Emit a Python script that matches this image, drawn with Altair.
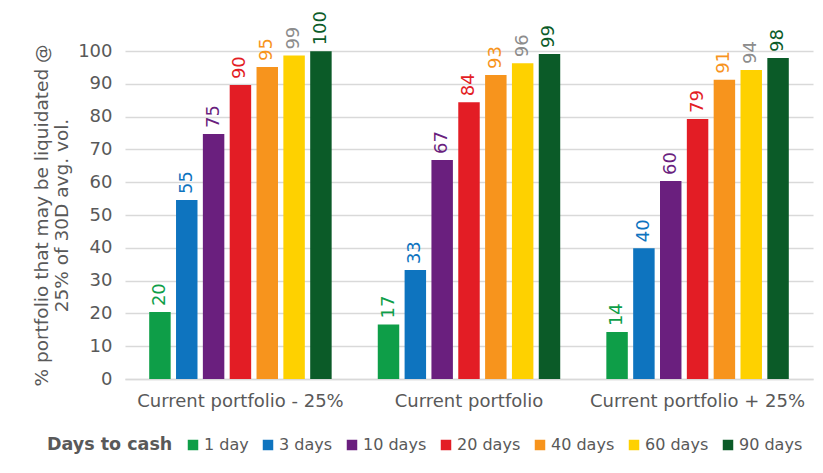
import altair as alt
import pandas as pd

groups = ["Current portfolio - 25%", "Current portfolio", "Current portfolio + 25%"]
days = ["1 day", "3 days", "10 days", "20 days", "40 days", "60 days", "90 days"]
vals_minus25 = [20.4, 54.6, 74.7, 89.6, 95.1, 98.6, 99.9]
vals_current = [16.6, 33.2, 66.8, 84.4, 92.7, 96.3, 99.1]
vals_plus25 = [14.3, 39.9, 60.4, 79.3, 91.2, 94.2, 97.9]
y_ticks = [0, 10, 20, 30, 40, 50, 60, 70, 80, 90, 100]

bar_colors = ["#0E9E48", "#0E74BF", "#6A1F7E", "#E31D25", "#F7941D", "#FED100", "#0B5B28"]
text_colors = ["#0E9E48", "#0E74BF", "#6A1F7E", "#E31D25", "#F7941D", "#8C8C8C", "#0B5B28"]

rows = []
for g, vals in zip(groups, [vals_minus25, vals_current, vals_plus25]):
    for d, v in zip(days, vals):
        rows.append({"group": g, "days": d, "value": v})
df = pd.DataFrame(rows)

FONT = "DejaVu Sans"
GREY = "#595959"

x = alt.X("group:N", sort=groups, title=None,
          scale=alt.Scale(paddingInner=0.19, paddingOuter=0.1),
          axis=alt.Axis(labelAngle=0, labelFontSize=18, labelColor=GREY, labelFont=FONT,
                        labelLimit=400, ticks=False, domainColor="#D9D9D9", domainWidth=1.5,
                        labelPadding=13))
xo = alt.XOffset("days:N", sort=days, scale=alt.Scale(paddingInner=0.2, paddingOuter=0.05))
y = alt.Y("value:Q", scale=alt.Scale(domain=[0, 100], nice=False),
          title=["% portfolio that may be liquidated @", "25% of 30D avg. vol."],
          axis=alt.Axis(values=y_ticks, tickCount=11, grid=True, gridColor="#D9D9D9",
                        gridWidth=1.5, ticks=False, domain=False, labelFontSize=18,
                        labelOverlap=False, labelColor=GREY, labelFont=FONT, labelPadding=13,
                        titleFontSize=18.5, titleColor=GREY, titleFont=FONT,
                        titleFontWeight="normal", titlePadding=6, titleLineHeight=20))

bars = alt.Chart(df).mark_bar().encode(
    x=x, xOffset=xo, y=y,
    color=alt.Color("days:N", sort=days, scale=alt.Scale(domain=days, range=bar_colors),
                    legend=alt.Legend(title="Days to cash", orient="none", direction="horizontal",
                                      legendX=-78, legendY=386, titleOrient="left",
                                      titleFontSize=17.5, titleFont=FONT, titleColor=GREY,
                                      titleFontWeight="bold", labelFontSize=16, labelFont=FONT,
                                      labelColor=GREY, symbolType="square", symbolSize=110,
                                      symbolStrokeWidth=0, columnPadding=11, titlePadding=12,
                                      labelOffset=3))
)

labels = alt.Chart(df).mark_text(angle=270, align="left", baseline="middle", dx=6,
                                 fontSize=18, font=FONT).encode(
    x=x, xOffset=xo, y=y,
    text=alt.Text("value:Q", format=".0f"),
    color=alt.Color("days:N", scale=alt.Scale(domain=days, range=text_colors), legend=None),
)

chart = alt.layer(bars, labels).resolve_scale(color="independent").properties(
    width=688, height=328,
    autosize=alt.AutoSizeParams(type="none"),
    padding={"left": 117, "top": 43, "right": 2, "bottom": 86},
).configure_view(stroke=None)

chart.save("out.html", embed_options={"renderer": "svg", "actions": False})
